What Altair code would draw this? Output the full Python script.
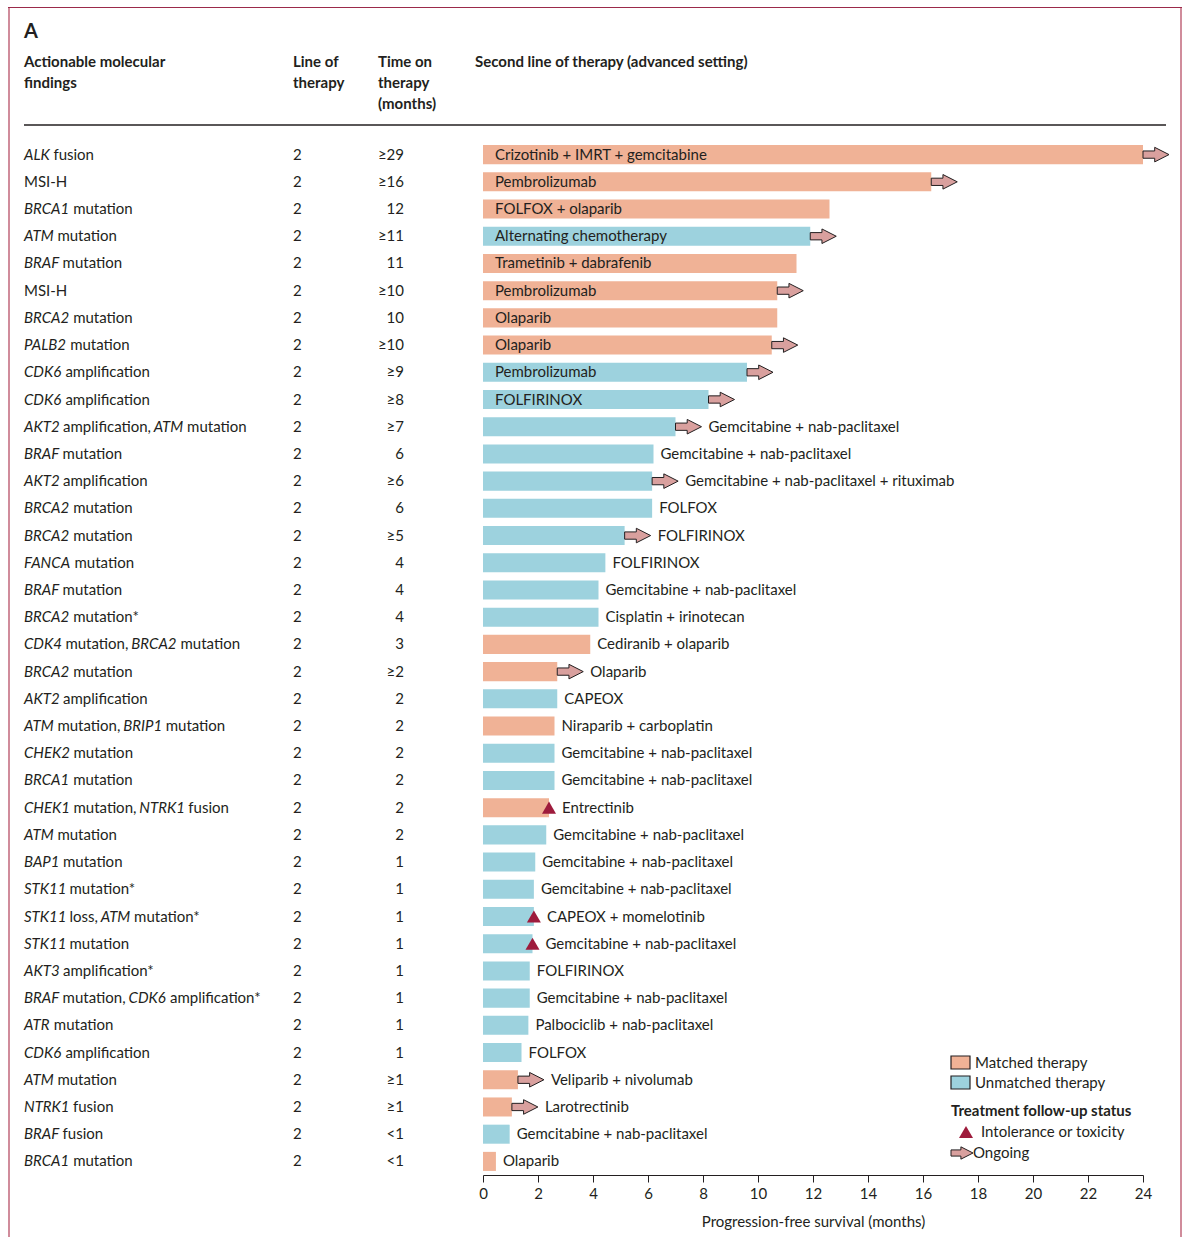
import altair as alt
import pandas as pd

# ---------------------------------------------------------------------------
# Patient rows (top to bottom). Gene symbols wrapped in _..._ are set in italics.
# ---------------------------------------------------------------------------
findings = [
    "_ALK_ fusion", "MSI-H", "_BRCA1_ mutation", "_ATM_ mutation", "_BRAF_ mutation",
    "MSI-H", "_BRCA2_ mutation", "_PALB2_ mutation", "_CDK6_ amplification",
    "_CDK6_ amplification", "_AKT2_ amplification, _ATM_ mutation", "_BRAF_ mutation",
    "_AKT2_ amplification", "_BRCA2_ mutation", "_BRCA2_ mutation", "_FANCA_ mutation",
    "_BRAF_ mutation", "_BRCA2_ mutation*", "_CDK4_ mutation, _BRCA2_ mutation",
    "_BRCA2_ mutation", "_AKT2_ amplification", "_ATM_ mutation, _BRIP1_ mutation",
    "_CHEK2_ mutation", "_BRCA1_ mutation", "_CHEK1_ mutation, _NTRK1_ fusion",
    "_ATM_ mutation", "_BAP1_ mutation", "_STK11_ mutation*", "_STK11_ loss, _ATM_ mutation*",
    "_STK11_ mutation", "_AKT3_ amplification*", "_BRAF_ mutation, _CDK6_ amplification*",
    "_ATR_ mutation", "_CDK6_ amplification", "_ATM_ mutation", "_NTRK1_ fusion",
    "_BRAF_ fusion", "_BRCA1_ mutation",
]

line_of_therapy = [
    "2", "2", "2", "2", "2", "2", "2", "2", "2", "2", "2", "2", "2", "2", "2", "2", "2", "2", "2",
    "2", "2", "2", "2", "2", "2", "2", "2", "2", "2", "2", "2", "2", "2", "2", "2", "2", "2", "2",
]

time_on_therapy = [
    "≥29", "≥16", "12", "≥11", "11", "≥10", "10", "≥10", "≥9", "≥8",
    "≥7", "6", "≥6", "6", "≥5", "4", "4", "4", "3", "≥2",
    "2", "2", "2", "2", "2", "2", "1", "1", "1", "1",
    "1", "1", "1", "1", "≥1", "≥1", "<1", "<1",
]

therapies = [
    "Crizotinib + IMRT + gemcitabine", "Pembrolizumab", "FOLFOX + olaparib",
    "Alternating chemotherapy", "Trametinib + dabrafenib", "Pembrolizumab", "Olaparib",
    "Olaparib", "Pembrolizumab", "FOLFIRINOX", "Gemcitabine + nab-paclitaxel",
    "Gemcitabine + nab-paclitaxel", "Gemcitabine + nab-paclitaxel + rituximab", "FOLFOX",
    "FOLFIRINOX", "FOLFIRINOX", "Gemcitabine + nab-paclitaxel", "Cisplatin + irinotecan",
    "Cediranib + olaparib", "Olaparib", "CAPEOX", "Niraparib + carboplatin",
    "Gemcitabine + nab-paclitaxel", "Gemcitabine + nab-paclitaxel", "Entrectinib",
    "Gemcitabine + nab-paclitaxel", "Gemcitabine + nab-paclitaxel",
    "Gemcitabine + nab-paclitaxel", "CAPEOX + momelotinib", "Gemcitabine + nab-paclitaxel",
    "FOLFIRINOX", "Gemcitabine + nab-paclitaxel", "Palbociclib + nab-paclitaxel", "FOLFOX",
    "Veliparib + nivolumab", "Larotrectinib", "Gemcitabine + nab-paclitaxel", "Olaparib",
]

therapy_type = [
    "Matched", "Matched", "Matched", "Unmatched", "Matched", "Matched", "Matched", "Matched",
    "Unmatched", "Unmatched", "Unmatched", "Unmatched", "Unmatched", "Unmatched", "Unmatched",
    "Unmatched", "Unmatched", "Unmatched", "Matched", "Matched", "Unmatched", "Matched",
    "Unmatched", "Unmatched", "Matched", "Unmatched", "Unmatched", "Unmatched", "Unmatched",
    "Unmatched", "Unmatched", "Unmatched", "Unmatched", "Unmatched", "Matched", "Matched",
    "Unmatched", "Matched",
]

# progression-free survival in months (axis ends at 24)
pfs_months = [
    24.0, 16.3, 12.6, 11.9, 11.4, 10.7, 10.7, 10.5, 9.6, 8.2,
    7.0, 6.2, 6.15, 6.15, 5.15, 4.45, 4.2, 4.2, 3.9, 2.7,
    2.7, 2.6, 2.6, 2.6, 2.4, 2.3, 1.9, 1.85, 1.85, 1.8,
    1.7, 1.7, 1.65, 1.4, 1.27, 1.05, 0.97, 0.47,
]

follow_up = [
    "Ongoing", "Ongoing", "", "Ongoing", "", "Ongoing", "", "Ongoing", "Ongoing", "Ongoing",
    "Ongoing", "", "Ongoing", "", "Ongoing", "", "", "", "", "Ongoing",
    "", "", "", "", "Toxicity", "", "", "", "Toxicity", "Toxicity",
    "", "", "", "", "Ongoing", "Ongoing", "", "",
]

x_ticks = [0, 2, 4, 6, 8, 10, 12, 14, 16, 18, 20, 22, 24]

# ---------------------------------------------------------------------------
# Styling
# ---------------------------------------------------------------------------
FONT = "Lato"
FS = 15
INK = "#231f20"
MATCHED = "#f0b296"
UNMATCHED = "#9dd2de"
ARROW_FILL = "#d9a09e"
TOXIC = "#9e1b3c"
FRAME = "#d08c9b"
FRAME_TOP = "#9b2a4a"

OX, OY = 483, 141           # plot-area origin on the page
PLOT_W, PLOT_H = 660, 1034
N = len(findings)

ARROW = "M0,-0.28L0.9,-0.28L0.9,-0.56L2,0L0.9,0.56L0.9,0.28L0,0.28Z"

# approximate advance widths (em) for placing italic / upright pieces of a label
EM = {
    " ": 0.193, ",": 0.237, "-": 0.34, "*": 0.41, ".": 0.23,
    "a": 0.503, "b": 0.555, "c": 0.463, "d": 0.555, "e": 0.518, "f": 0.329, "g": 0.5,
    "h": 0.56, "i": 0.238, "j": 0.238, "k": 0.5, "l": 0.238, "m": 0.842, "n": 0.56,
    "o": 0.557, "p": 0.549, "q": 0.555, "r": 0.377, "s": 0.428, "t": 0.352, "u": 0.56,
    "v": 0.5, "w": 0.76, "x": 0.5, "y": 0.5, "z": 0.44,
    "A": 0.679, "B": 0.651, "C": 0.688, "D": 0.74, "E": 0.56, "F": 0.548, "G": 0.72,
    "H": 0.744, "I": 0.29, "J": 0.38, "K": 0.675, "L": 0.505, "M": 0.88, "N": 0.744,
    "O": 0.78, "P": 0.6, "Q": 0.78, "R": 0.628, "S": 0.53, "T": 0.583, "U": 0.72,
    "V": 0.66, "W": 0.98, "X": 0.64, "Y": 0.62, "Z": 0.6,
}
ITALIC_SCALE = 0.95   # the italic capitals run a little narrower


def text_width(s, italic=False, size=FS):
    w = sum(EM.get(ch, 0.6) for ch in s) * size
    return w * ITALIC_SCALE if italic else w


rows = pd.DataFrame({
    "row": list(range(N)),
    "therapy": therapies,
    "type": therapy_type,
    "pfs": pfs_months,
    "status": follow_up,
    "line": line_of_therapy,
    "time": time_on_therapy,
})
rows["yc"] = rows["row"] + 0.5
rows["y0"] = rows["row"] + 0.15
rows["y1"] = rows["row"] + 0.85
rows["zero"] = 0.0

# split each finding into italic / upright pieces with their pixel start
LABEL_X = 24 - OX
pieces = []
for i, label in enumerate(findings):
    x = LABEL_X
    for k, part in enumerate(label.split("_")):
        italic = k % 2 == 1
        if part.strip():
            lead = len(part) - len(part.lstrip())
            pieces.append({
                "yc": i + 0.5,
                "text": part.strip(),
                "italic": italic,
                "px": x + text_width(part[:lead], italic),
            })
        x += text_width(part, italic)
pieces = pd.DataFrame(pieces)

x_scale = alt.Scale(domain=[0, 24], nice=False, zero=False)
y_scale = alt.Scale(domain=[0, N], reverse=True, nice=False, zero=False)
type_scale = alt.Scale(domain=["Matched", "Unmatched"], range=[MATCHED, UNMATCHED])

one = pd.DataFrame({"k": [0]})
base = alt.Chart(rows)

# ---------------------------------------------------------------------------
# Frame and header
# ---------------------------------------------------------------------------
frame_left = alt.Chart(one).mark_rule(color=FRAME, strokeWidth=2).encode(
    x=alt.value(9 - OX), y=alt.value(8 - OY), y2=alt.value(1250 - OY))
frame_right = alt.Chart(one).mark_rule(color=FRAME, strokeWidth=2).encode(
    x=alt.value(1181 - OX), y=alt.value(8 - OY), y2=alt.value(1250 - OY))
frame_top = alt.Chart(one).mark_rule(color=FRAME_TOP, strokeWidth=1).encode(
    x=alt.value(8 - OX), x2=alt.value(1182 - OX), y=alt.value(7.5 - OY))

header_rule = alt.Chart(one).mark_rule(color=INK, strokeWidth=1.3).encode(
    x=alt.value(24 - OX), x2=alt.value(1166 - OX), y=alt.value(125 - OY))

panel_letter = alt.Chart(one).mark_text(
    font=FONT, fontSize=20, fontWeight="bold", color=INK, align="left", baseline="alphabetic"
).encode(x=alt.value(24 - OX), y=alt.value(38 - OY), text=alt.value("A"))

headers = pd.DataFrame({
    "text": ["Actionable molecular\nfindings", "Line of\ntherapy",
             "Time on\ntherapy\n(months)", "Second line of therapy (advanced setting)"],
    "px": [24 - OX, 293 - OX, 378 - OX, 475 - OX],
})
header_text = alt.Chart(headers).mark_text(
    font=FONT, fontSize=FS, fontWeight="bold", color=INK, align="left",
    baseline="alphabetic", lineBreak="\n", lineHeight=21
).encode(x=alt.X("px:Q", scale=None), y=alt.value(67 - OY), text="text:N")

# ---------------------------------------------------------------------------
# Left-hand table columns
# ---------------------------------------------------------------------------
finding_up = alt.Chart(pieces).transform_filter("!datum.italic").mark_text(
    font=FONT, fontSize=FS, color=INK, align="left", baseline="middle"
).encode(x=alt.X("px:Q", scale=None), y=alt.Y("yc:Q", scale=y_scale, axis=None), text="text:N")

finding_it = alt.Chart(pieces).transform_filter("datum.italic").mark_text(
    font=FONT, fontSize=FS, fontStyle="italic", color=INK, align="left", baseline="middle"
).encode(x=alt.X("px:Q", scale=None), y=alt.Y("yc:Q", scale=y_scale, axis=None), text="text:N")

line_col = base.mark_text(
    font=FONT, fontSize=FS, color=INK, align="left", baseline="middle"
).encode(x=alt.value(293 - OX), y=alt.Y("yc:Q", scale=y_scale, axis=None), text="line:N")

time_col = base.mark_text(
    font=FONT, fontSize=FS, color=INK, align="right", baseline="middle"
).encode(x=alt.value(404 - OX), y=alt.Y("yc:Q", scale=y_scale, axis=None), text="time:N")

# ---------------------------------------------------------------------------
# Bars, markers and therapy labels
# ---------------------------------------------------------------------------
bars = base.mark_bar().encode(
    x=alt.X("zero:Q", scale=x_scale, title="Progression-free survival (months)",
            axis=alt.Axis(values=x_ticks, grid=False, tickSize=7, labelPadding=4,
                          labelFlush=False, titlePadding=13)),
    x2="pfs:Q",
    y=alt.Y("y0:Q", scale=y_scale, title=None,
            axis=alt.Axis(values=list(range(N + 1)), labels=False, grid=False, tickSize=6)),
    y2="y1:Q",
    color=alt.Color("type:N", scale=type_scale, legend=None),
)

label_in = base.transform_filter("datum.pfs >= 7.5").mark_text(
    font=FONT, fontSize=FS, color=INK, align="left", baseline="middle"
).encode(x=alt.value(12), y=alt.Y("yc:Q", scale=y_scale), text="therapy:N")

outside = base.transform_filter("datum.pfs < 7.5")
label_plain = outside.transform_filter("datum.status == ''").mark_text(
    font=FONT, fontSize=FS, color=INK, align="left", baseline="middle", dx=7
).encode(x=alt.X("pfs:Q", scale=x_scale), y=alt.Y("yc:Q", scale=y_scale), text="therapy:N")
label_arrow = outside.transform_filter("datum.status == 'Ongoing'").mark_text(
    font=FONT, fontSize=FS, color=INK, align="left", baseline="middle", dx=33
).encode(x=alt.X("pfs:Q", scale=x_scale), y=alt.Y("yc:Q", scale=y_scale), text="therapy:N")
label_tox = outside.transform_filter("datum.status == 'Toxicity'").mark_text(
    font=FONT, fontSize=FS, color=INK, align="left", baseline="middle", dx=13
).encode(x=alt.X("pfs:Q", scale=x_scale), y=alt.Y("yc:Q", scale=y_scale), text="therapy:N")

arrows = base.transform_filter("datum.status == 'Ongoing'").mark_point(
    shape=ARROW, size=676, filled=True, fill=ARROW_FILL, stroke=INK, strokeWidth=1,
    opacity=1, strokeJoin="miter"
).encode(x=alt.X("pfs:Q", scale=x_scale), y=alt.Y("yc:Q", scale=y_scale))

triangles = base.transform_filter("datum.status == 'Toxicity'").mark_point(
    shape="triangle-up", size=196, filled=True, color=TOXIC, opacity=1
).encode(x=alt.X("pfs:Q", scale=x_scale), y=alt.Y("yc:Q", scale=y_scale))

# ---------------------------------------------------------------------------
# Legend
# ---------------------------------------------------------------------------
legend_types = pd.DataFrame({
    "type": ["Matched", "Unmatched"],
    "label": ["Matched therapy", "Unmatched therapy"],
    "py": [1062.5 - OY, 1082.5 - OY],
})
legend_types["py0"] = legend_types["py"] - 6.5
legend_types["py1"] = legend_types["py"] + 6.5
legend_boxes = alt.Chart(legend_types).mark_rect(stroke=INK, strokeWidth=1.2).encode(
    x=alt.value(951 - OX), x2=alt.value(970 - OX),
    y=alt.Y("py0:Q", scale=None), y2="py1:Q",
    fill=alt.Fill("type:N", scale=type_scale, legend=None),
)
legend_type_text = alt.Chart(legend_types).mark_text(
    font=FONT, fontSize=FS, color=INK, align="left", baseline="middle"
).encode(x=alt.value(975 - OX), y=alt.Y("py:Q", scale=None), text="label:N")

legend_title = alt.Chart(one).mark_text(
    font=FONT, fontSize=FS, fontWeight="bold", color=INK, align="left", baseline="middle"
).encode(x=alt.value(951 - OX), y=alt.value(1111 - OY),
         text=alt.value("Treatment follow-up status"))
legend_tri = alt.Chart(one).mark_point(
    shape="triangle-up", size=196, filled=True, color=TOXIC, opacity=1
).encode(x=alt.value(966 - OX), y=alt.value(1132 - OY))
legend_tri_text = alt.Chart(one).mark_text(
    font=FONT, fontSize=FS, color=INK, align="left", baseline="middle"
).encode(x=alt.value(981 - OX), y=alt.value(1132 - OY), text=alt.value("Intolerance or toxicity"))
legend_arrow = alt.Chart(one).mark_point(
    shape=ARROW, size=484, filled=True, fill=ARROW_FILL, stroke=INK, strokeWidth=1,
    opacity=1, strokeJoin="miter"
).encode(x=alt.value(951 - OX), y=alt.value(1153 - OY))
legend_arrow_text = alt.Chart(one).mark_text(
    font=FONT, fontSize=FS, color=INK, align="left", baseline="middle"
).encode(x=alt.value(973 - OX), y=alt.value(1153 - OY), text=alt.value("Ongoing"))

chart = alt.layer(
    bars, arrows, triangles, label_in, label_plain, label_arrow, label_tox,
    finding_up, finding_it, line_col, time_col,
    frame_left, frame_right, frame_top, header_rule, panel_letter, header_text,
    legend_boxes, legend_type_text, legend_title, legend_tri, legend_tri_text,
    legend_arrow, legend_arrow_text,
).properties(
    width=PLOT_W, height=PLOT_H,
    autosize=alt.AutoSizeParams(type="none"),
    padding={"left": OX, "top": OY, "right": 40, "bottom": 62},
).configure_view(stroke=None).configure_axis(
    domainColor=INK, tickColor=INK, labelColor=INK, titleColor=INK,
    labelFont=FONT, titleFont=FONT, labelFontSize=FS, titleFontSize=FS,
    titleFontWeight="normal", domainWidth=1, tickWidth=1,
)

chart.save("out.html", embed_options={"renderer": "svg", "actions": False})
